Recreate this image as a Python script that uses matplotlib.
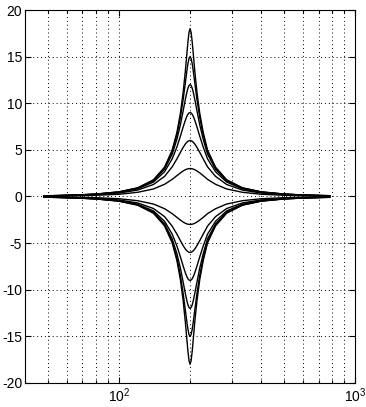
import matplotlib
matplotlib.use("Agg")
import matplotlib.pyplot as plt
import numpy as np
from matplotlib.ticker import LogLocator, NullFormatter, FixedLocator

# Frequencies (Hz)
freqs = [48, 55, 65, 80, 100, 120, 140, 156, 168, 176, 182, 187, 191, 194, 196, 198, 200,
         202, 204.1, 206.2, 209.4, 213.9, 219.8, 227.3, 237.1, 256.4, 285.7, 333.3, 400, 500,
         615.4, 727.3, 780]

# Boost curves (dB), one per peak gain
boost_3 = [0.04, 0.05, 0.08, 0.13, 0.24, 0.45, 0.81, 1.31, 1.84, 2.24, 2.53, 2.74, 2.87, 2.94, 2.97, 2.99, 3.00,
           2.99, 2.97, 2.94, 2.87, 2.74, 2.53, 2.24, 1.84, 1.31, 0.81, 0.45, 0.24, 0.13, 0.08, 0.05, 0.04]
boost_6 = [0.06, 0.08, 0.12, 0.20, 0.37, 0.69, 1.29, 2.16, 3.18, 4.04, 4.73, 5.27, 5.63, 5.83, 5.92, 5.98, 6.00,
           5.98, 5.92, 5.83, 5.63, 5.27, 4.73, 4.04, 3.18, 2.16, 1.29, 0.69, 0.37, 0.20, 0.12, 0.08, 0.07]
boost_9 = [0.07, 0.09, 0.14, 0.23, 0.44, 0.82, 1.55, 2.66, 4.04, 5.32, 6.47, 7.46, 8.18, 8.62, 8.83, 8.96, 9.00,
           8.96, 8.83, 8.62, 8.18, 7.46, 6.47, 5.32, 4.04, 2.66, 1.55, 0.82, 0.44, 0.23, 0.14, 0.09, 0.08]
boost_12 = [0.07, 0.10, 0.15, 0.25, 0.47, 0.88, 1.68, 2.93, 4.55, 6.15, 7.69, 9.19, 10.41, 11.22, 11.64, 11.91, 12.00,
            11.91, 11.64, 11.22, 10.41, 9.19, 7.69, 6.15, 4.55, 2.93, 1.68, 0.88, 0.47, 0.25, 0.15, 0.10, 0.08]
boost_15 = [0.07, 0.10, 0.15, 0.26, 0.49, 0.91, 1.75, 3.07, 4.83, 6.63, 8.47, 10.41, 12.19, 13.52, 14.28, 14.81, 15.00,
            14.81, 14.28, 13.52, 12.19, 10.41, 8.47, 6.63, 4.83, 3.07, 1.75, 0.91, 0.49, 0.26, 0.15, 0.10, 0.09]
boost_18 = [0.08, 0.10, 0.15, 0.26, 0.50, 0.93, 1.79, 3.15, 4.97, 6.89, 8.92, 11.18, 13.46, 15.40, 16.65, 17.62, 18.00,
            17.62, 16.65, 15.40, 13.46, 11.18, 8.92, 6.89, 4.97, 3.15, 1.79, 0.93, 0.50, 0.26, 0.15, 0.10, 0.09]

curves = [boost_3, boost_6, boost_9, boost_12, boost_15, boost_18]

y_ticks = [-20, -15, -10, -5, 0, 5, 10, 15, 20]
x_ticks = [100, 1000]
x_tick_labels = [r"$10^2$", r"$10^3$"]

plt.rcParams['font.family'] = ['Liberation Sans', 'DejaVu Sans']
plt.rcParams['mathtext.fontset'] = 'custom'
plt.rcParams['mathtext.rm'] = 'Liberation Sans'
plt.rcParams['mathtext.it'] = 'Liberation Sans'

fig = plt.figure(figsize=(3.66, 4.07), dpi=100)
ax = fig.add_axes([0.0683, 0.059, 0.902, 0.9164])

for c in curves:
    ax.plot(freqs, c, color='black', lw=1.0)
    ax.plot(freqs, -np.array(c), color='black', lw=1.0)

ax.set_xscale('log')
ax.set_xlim(40, 1000)
ax.set_ylim(-20, 20)
ax.yaxis.set_major_locator(FixedLocator(y_ticks))
ax.set_yticklabels([str(t) for t in y_ticks])
ax.xaxis.set_major_locator(FixedLocator(x_ticks))
ax.set_xticklabels(x_tick_labels)
ax.xaxis.set_minor_locator(LogLocator(base=10, subs=np.arange(2, 10)))
ax.xaxis.set_minor_formatter(NullFormatter())

dot = (0, (1, 3))
ax.grid(True, which='major', axis='both', color='black', lw=0.7, linestyle=dot)
ax.grid(True, which='minor', axis='x', color='black', lw=0.7, linestyle=dot)

ax.tick_params(which='both', direction='in', top=True, right=True, labelsize=10, width=0.8)
ax.tick_params(which='major', length=4)
ax.tick_params(which='minor', length=2)
ax.tick_params(axis='x', pad=2.5)
ax.tick_params(axis='y', pad=2)
for s in ax.spines.values():
    s.set_linewidth(0.8)

fig.savefig('out.png', dpi=100)
